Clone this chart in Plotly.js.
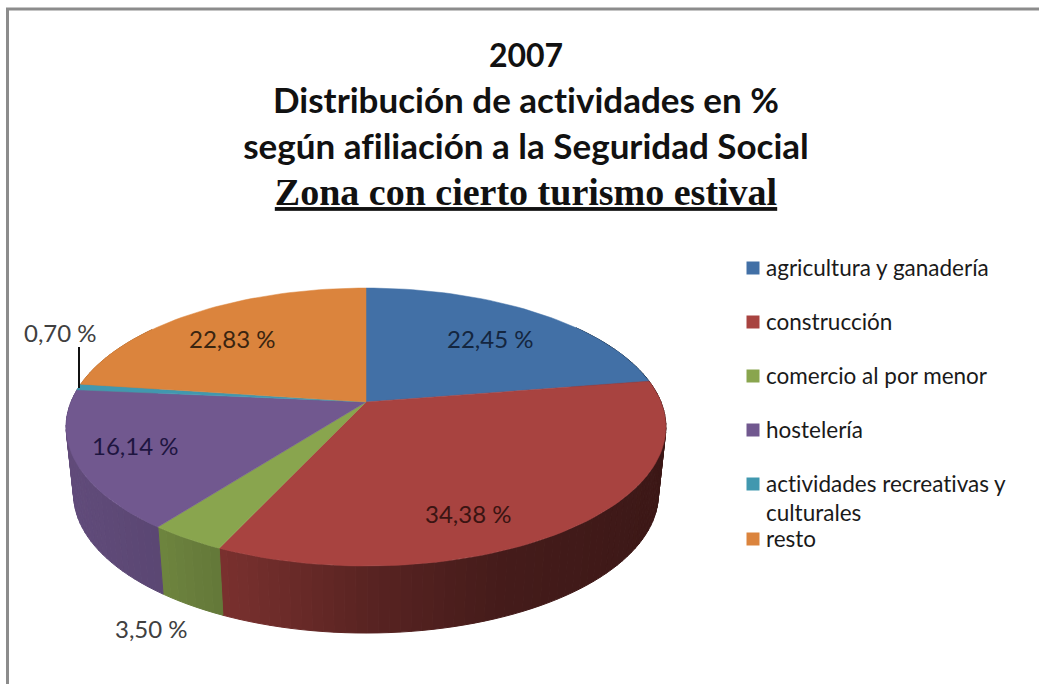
<!DOCTYPE html>
<html lang="es">
<head>
<meta charset="utf-8">
<title>2007 Distribución de actividades</title>
<script src="https://cdn.plot.ly/plotly-3.0.1.min.js"></script>
<style>html,body{margin:0;padding:0;background:#fff}#chart{width:1039px;height:684px}svg text,svg tspan{font-variant-ligatures:none !important}</style>
</head>
<body>
<div id="chart"></div>
<script>
// ---- data ----
const categories = ['agricultura y ganadería', 'construcción', 'comercio al por menor', 'hostelería', 'actividades recreativas y', 'resto'];
const shares = [22.45, 34.38, 3.50, 16.14, 0.70, 22.83];
const shareLabels = ['22,45 %', '34,38 %', '3,50 %', '16,14 %', '0,70 %', '22,83 %'];

// ---- styling ----
const sliceColors = ['#4270A6', '#A84340', '#89A54E', '#71588F', '#4198AF', '#DB843D'];
const labelColors = ['#14263F', '#3A1412', '#404040', '#1E1540', '#404040', '#3A2410'];
const labelSpots = [[490, 338], [468, 513], [151, 628], [135, 445], [60, 332], [232, 338]];
const legendRows = [268, 322, 376, 430, 484, 539];

// ---- tilted-disc projection (screen units of the axes below) ----
const CX = 366, CY = 402, RX = 295, RY = 134.5, PERSP = 0.18, DEPTH = 67, SHRINK = 0.975;
function rim(pct) {
  const t = pct / 100 * 2 * Math.PI, X = Math.sin(t), Y = Math.cos(t), w = 1 + PERSP * Y;
  return [CX + RX * X / w, CY - RY * Y / w];
}
function lower(p) { return [CX + (p[0] - CX) * SHRINK, p[1] + DEPTH]; }
const shadeStops = [[60, .86], [160, .8], [223, .72], [300, .62], [366, .53], [500, .41], [660, .36]];
function shadeAt(x) {
  for (let i = 1; i < shadeStops.length; i++) {
    if (x <= shadeStops[i][0]) {
      const a = shadeStops[i - 1], b = shadeStops[i];
      return a[1] + (b[1] - a[1]) * Math.max(0, (x - a[0]) / (b[0] - a[0]));
    }
  }
  return shadeStops[shadeStops.length - 1][1];
}
function shade(hex, f) {
  const n = parseInt(hex.slice(1), 16);
  return `rgb(${Math.round((n >> 16) * f)},${Math.round(((n >> 8) & 255) * f)},${Math.round((n & 255) * f)})`;
}

const traces = [];
const STEP = 0.5;   // percent of the disc per side strip / rim point
let acc = 0;
const spans = shares.map(v => { const s = [acc, acc + v]; acc += v; return s; });

// side wall, one shaded strip at a time
spans.forEach((sp, i) => {
  for (let a = sp[0]; a < sp[1] - 1e-6; a += STEP) {
    const b = Math.min(a + STEP, sp[1]);
    if (b < 15 || a > 85) continue;
    const p = rim(a), q = rim(b), r = lower(q), s = lower(p);
    const col = shade(sliceColors[i], shadeAt((p[0] + q[0]) / 2));
    traces.push({
      type: 'scatter', mode: 'lines', x: [p[0], q[0], r[0], s[0], p[0]], y: [p[1], q[1], r[1], s[1], p[1]],
      fill: 'toself', fillcolor: col, line: { color: col, width: 1 }, hoverinfo: 'skip', showlegend: false
    });
  }
});

// top surface of each slice
spans.forEach((sp, i) => {
  const xs = [CX], ys = [CY];
  const n = Math.max(2, Math.ceil((sp[1] - sp[0]) / STEP));
  for (let k = 0; k <= n; k++) {
    const p = rim(sp[0] + (sp[1] - sp[0]) * k / n);
    xs.push(p[0]); ys.push(p[1]);
  }
  xs.push(CX); ys.push(CY);
  traces.push({
    type: 'scatter', mode: 'lines', x: xs, y: ys, fill: 'toself', fillcolor: sliceColors[i],
    line: { color: sliceColors[i], width: 0.5 }, name: categories[i], text: shareLabels[i], hoverinfo: 'name+text', showlegend: false
  });
});

// legend swatches
traces.push({
  type: 'scatter', mode: 'markers', x: categories.map(() => 753), y: legendRows,
  marker: { symbol: 'square', size: 13, color: sliceColors }, hoverinfo: 'skip', showlegend: false
});

const FONT = 'Lato, Carlito, Calibri, sans-serif';
const annotations = [];
shareLabels.forEach((t, i) => annotations.push({
  x: labelSpots[i][0], y: labelSpots[i][1], xref: 'x', yref: 'y', text: t, showarrow: false,
  xanchor: 'center', yanchor: 'middle', font: { family: FONT, size: 24, color: labelColors[i] }
}));
categories.forEach((t, i) => annotations.push({
  x: 764, y: legendRows[i] - 1, xref: 'x', yref: 'y', text: t, showarrow: false, xanchor: 'left', yanchor: 'middle',
  font: { family: FONT, size: 22.5, color: '#1a1a1a' }
}));
annotations.push({
  x: 764, y: 512, xref: 'x', yref: 'y', text: 'culturales', showarrow: false, xanchor: 'left', yanchor: 'middle',
  font: { family: FONT, size: 22.5, color: '#1a1a1a' }
});

const line = (x0, y0, x1, y1, color, width) => ({ type: 'line', xref: 'x', yref: 'y', x0, y0, x1, y1, line: { color, width } });
const layout = {
  width: 1039, height: 684, margin: { l: 0, r: 0, t: 0, b: 0 },
  paper_bgcolor: '#fff', plot_bgcolor: '#fff', showlegend: false,
  xaxis: { range: [0, 1039], visible: false, fixedrange: true },
  yaxis: { range: [684, 0], visible: false, fixedrange: true },
  title: {
    text: '<b><span style="font-size:32px">2007</span><br>' +
      '<span style="font-size:35px">Distribución de actividades en %</span><br>' +
      '<span style="font-size:35px">según afiliación a la Seguridad Social</span><br>' +
      '<span style="font-size:38px;font-family:\'Liberation Serif\',serif"><u>Zona con cierto turismo estival</u></span></b>',
    x: 526 / 1039, xanchor: 'center', y: 1 - 67 / 684, yanchor: 'top',
    font: { family: FONT, size: 35.4, color: '#111' }
  },
  annotations,
  shapes: [
    line(7.5, 8, 7.5, 684, '#8c8c8c', 3),
    line(6, 9, 1039, 9, '#8c8c8c', 3),
    line(79, 347, 79, 388, '#111', 2)
  ]
};
Plotly.newPlot('chart', traces, layout, { displayModeBar: false, staticPlot: true });
</script>
</body>
</html>
